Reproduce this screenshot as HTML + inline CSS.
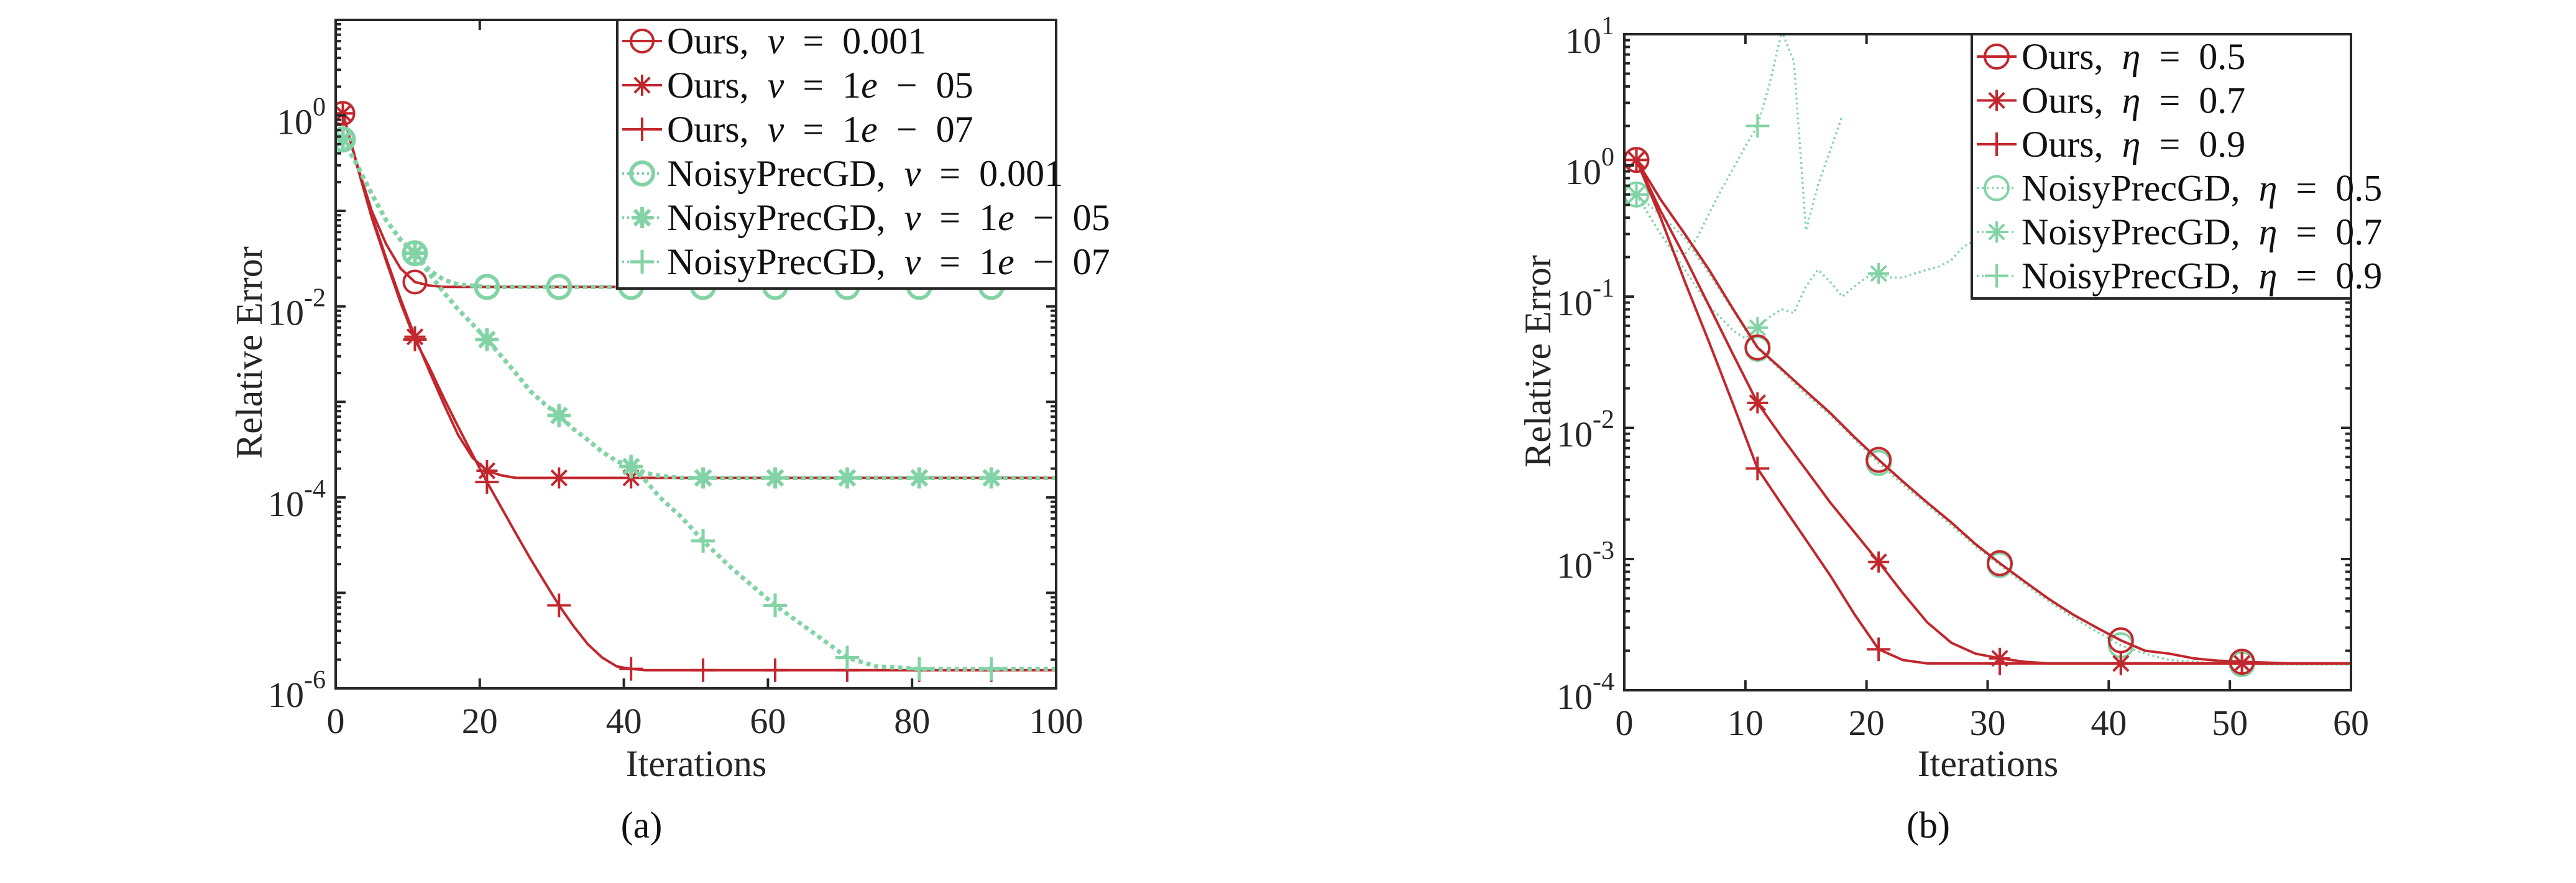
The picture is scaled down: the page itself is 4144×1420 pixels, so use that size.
<!DOCTYPE html>
<html><head><meta charset="utf-8"><style>
html,body{margin:0;padding:0;background:#fff;}
svg{display:block;font-family:"Liberation Serif",serif;}
</style></head><body>
<svg id="chart" xmlns="http://www.w3.org/2000/svg" width="4144" height="1420" viewBox="0 0 4144 1420">
<defs>
<clipPath id="clipA"><rect x="540" y="32" width="1159" height="1075"/></clipPath>
<clipPath id="clipB"><rect x="2613" y="55" width="1169" height="1055"/></clipPath>
</defs>
<rect x="0" y="0" width="4144" height="1420" fill="#fff"/>
</svg>
<script>
// ---------- Panel (a) data ----------
const itsA = [1,3,5,7,9,11,13,15,17,19,21,23,25,27,29,31,33,35,37,39,41,43,45,48,51,55,61,65,71,75,81,91,100];
const aOurs1e3 = [1.05,0.3,0.1,0.045,0.025,0.018,0.0165,0.016,0.016,0.016,0.016,0.016,0.016,0.016,0.016,0.016,0.016,0.016,0.016,0.016,0.016,0.016,0.016,0.016,0.016,0.016,0.016,0.016,0.016,0.016,0.016,0.016,0.016];
const aOurs1e5 = [1.05,0.3,0.09,0.032,0.012,0.0048,0.0021,0.00095,0.00045,0.00026,0.00019,0.00017,0.00016,0.00016,0.00016,0.00016,0.00016,0.00016,0.00016,0.00016,0.00016,0.00016,0.00016,0.00016,0.00016,0.00016,0.00016,0.00016,0.00016,0.00016,0.00016,0.00016,0.00016];
const aOurs1e7 = [1.05,0.29,0.085,0.03,0.011,0.0045,0.0023,0.0011,0.00055,0.00028,0.000145,0.000078,0.000042,0.000023,0.000013,0.0000074,0.0000045,0.0000029,0.0000021,0.0000017,0.0000016,0.00000155,0.00000155,0.00000155,0.00000155,0.00000155,0.00000155,0.00000155,0.00000155,0.00000155,0.00000155,0.00000155,0.00000155];
const aNoisy1e3 = [0.56,0.3,0.15,0.08,0.05,0.036,0.024,0.019,0.017,0.0165,0.016,0.016,0.016,0.016,0.016,0.016,0.016,0.016,0.016,0.016,0.016,0.016,0.016,0.016,0.016,0.016,0.016,0.016,0.016,0.016,0.016,0.016,0.016];
const aNoisy1e5 = [0.56,0.3,0.15,0.08,0.05,0.036,0.022,0.014,0.0093,0.0065,0.0045,0.003,0.002,0.0013,0.00095,0.00072,0.00052,0.0004,0.0003,0.00024,0.00021,0.00018,0.000168,0.00016,0.00016,0.00016,0.00016,0.00016,0.00016,0.00016,0.00016,0.00016,0.00016];
const aNoisy1e7 = [0.56,0.3,0.15,0.08,0.05,0.036,0.022,0.014,0.0093,0.0065,0.0045,0.003,0.002,0.0013,0.00095,0.00072,0.00052,0.0004,0.0003,0.00024,0.00021,0.00015,0.0001,0.000062,0.000035,0.000018,0.0000074,0.0000045,0.0000021,0.0000017,0.0000016,0.0000016,0.0000016];
const aXTicks = [0,20,40,60,80,100];
const aYExp = ["-6","-4","-2","0"];
const aYExpVals = [-6,-4,-2,0];

// ---------- Panel (b) data ----------
const itsB = [1,3,5,7,9,11,13,15,17,19,21,23,25,27,29,31,33,35,37,39,41,43,45,47,49,51,55,60];
const bOurs05 = [1.1,0.55,0.3,0.16,0.08,0.041,0.028,0.019,0.013,0.0085,0.0057,0.0039,0.0027,0.0019,0.0013,0.00093,0.00068,0.0005,0.00038,0.0003,0.00024,0.0002,0.00019,0.000175,0.000168,0.000165,0.00016,0.00016];
const bNoisy05 = [0.6,0.42,0.28,0.15,0.078,0.04,0.027,0.018,0.0125,0.0082,0.0054,0.0037,0.0026,0.0018,0.00125,0.0009,0.00065,0.00048,0.00036,0.00028,0.00022,0.00019,0.00017,0.000165,0.00016,0.000158,0.000157,0.000157];
const bOurs07 = [1.1,0.45,0.2,0.085,0.036,0.0155,0.0085,0.0048,0.0027,0.0016,0.00095,0.00055,0.00033,0.00023,0.00019,0.000175,0.000165,0.00016,0.00016,0.00016,0.00016,0.00016,0.00016,0.00016,0.00016,0.00016,0.00016,0.00016];
const bOurs09 = [1.1,0.4,0.13,0.045,0.015,0.0049,0.0026,0.0014,0.00075,0.00038,0.000205,0.00017,0.00016,0.00016,0.00016,0.00016,0.00016,0.00016,0.00016,0.00016,0.00016,0.00016,0.00016,0.00016,0.00016,0.00016,0.00016,0.00016];
const itsBNoisy07 = [1,3,5,7,9,10,11,12,13,14,15,16,17,18,19,20,21,22,23,24,25,26,27,28,29,30];
const bNoisy07 = [0.6,0.3,0.16,0.085,0.055,0.048,0.058,0.07,0.08,0.075,0.12,0.16,0.13,0.1,0.12,0.14,0.15,0.14,0.14,0.15,0.16,0.17,0.19,0.24,0.27,0.3];
const itsBNoisy09 = [1,2,3,4,5,6,7,8,9,10,11,12,13,14,15,16,17,18];
const bNoisy09 = [0.6,0.42,0.3,0.23,0.21,0.28,0.43,0.65,0.95,1.4,2.0,4.2,10.5,6.2,0.32,0.71,1.3,2.4];
const bXTicks = [0,10,20,30,40,50,60];
const bYExp = ["-4","-3","-2","-1","0","1"];
const bYExpVals = [-4,-3,-2,-1,0,1];

const markerIters = [1,11,21,31,41,51,61,71,81,91];
const RED = "#c1272d", GREEN = "#82d3a5", AX = "#262626";
const NS = "http://www.w3.org/2000/svg";
const svg = document.getElementById('chart');

function mk(tag, attrs, parent){
  const e = document.createElementNS(NS, tag);
  for (const k in attrs) e.setAttribute(k, attrs[k]);
  parent.appendChild(e);
  return e;
}

function marker(parent, type, cx, cy, color, sw, r){
  const g = mk('g', {stroke: color, 'stroke-width': sw, fill: 'none'}, parent);
  
  
  if (type === 'circle') {
    mk('circle', {cx: cx, cy: cy, r: r}, g);
  } else if (type === 'star') {
    mk('path', {d: `M${cx-r},${cy}H${cx+r}M${cx},${cy-r}V${cy+r}M${cx-r*0.72},${cy-r*0.72}L${cx+r*0.72},${cy+r*0.72}M${cx-r*0.72},${cy+r*0.72}L${cx+r*0.72},${cy-r*0.72}`}, g);
  } else {
    mk('path', {d: `M${cx-r},${cy}H${cx+r}M${cx},${cy-r}V${cy+r}`}, g);
  }
  return g;
}

function panel(cfg){
  const P = mk('g', {}, svg);
  
  
  const sx = v => cfg.x0 + (v - cfg.xmin) / (cfg.xmax - cfg.xmin) * (cfg.x1 - cfg.x0);
  const sy = v => cfg.yBot - (Math.log10(v) - cfg.lmin) / (cfg.lmax - cfg.lmin) * (cfg.yBot - cfg.yTop);

  const plot = mk('g', {'clip-path': `url(#${cfg.clip})`}, P);
  
  
  cfg.series.forEach(s => {
    const g = mk('g', {}, plot);
    
    
    const pts = s.x.map((x, i) => `${sx(x).toFixed(1)},${sy(s.y[i]).toFixed(1)}`).join(' ');
    const line = mk('polyline', {points: pts, fill: 'none', stroke: s.color, 'stroke-width': s.sw, 'stroke-dasharray': s.dash || 'none', 'stroke-linejoin': 'round'}, g);
    
    
    s.x.forEach((x, i) => {
      if (markerIters.indexOf(x) >= 0) marker(g, s.marker, sx(x), sy(s.y[i]), s.color, s.msw, s.mr);
    });
  });

  const axes = mk('g', {stroke: AX, 'stroke-width': 4, fill: 'none'}, P);
  
  
  mk('rect', {x: cfg.x0, y: cfg.yTop, width: cfg.x1 - cfg.x0, height: cfg.yBot - cfg.yTop}, axes);
  let d = '';
  for (let e = cfg.lmin; e <= cfg.lmax; e++) {
    const y = sy(Math.pow(10, e));
    d += `M${cfg.x0},${y}h16M${cfg.x1},${y}h-16`;
    if (e < cfg.lmax) for (let k = 2; k <= 9; k++) {
      const yy = sy(k * Math.pow(10, e));
      d += `M${cfg.x0},${yy}h9M${cfg.x1},${yy}h-9`;
    }
  }
  cfg.xticks.forEach(t => { const x = sx(t); d += `M${x},${cfg.yBot}v-16M${x},${cfg.yTop}v16`; });
  const tk = mk('path', {d: d}, axes);
  
  

  cfg.xticks.forEach(t => {
    const tx = mk('text', {x: sx(t), y: cfg.yBot + 72, 'text-anchor': 'middle', 'font-size': 58, fill: AX}, P);
    
    
    tx.textContent = String(t);
  });
  cfg.yexpVals.forEach((e, i) => {
    const y = sy(Math.pow(10, e));
    const tx = mk('text', {x: cfg.x0 - 16, y: y + 30, 'text-anchor': 'end', 'font-size': 58, fill: AX}, P);
    
    
    tx.appendChild(document.createTextNode('10'));
    const sup = mk('tspan', {dy: -30, 'font-size': 42}, tx);
    sup.textContent = cfg.yexp[i];
  });

  const xt = mk('text', {x: cfg.xtX, y: 1248, 'text-anchor': 'middle', 'font-size': 60, fill: AX}, P);
  
  
  xt.textContent = 'Iterations';
  const yt = mk('text', {x: 0, y: 0, 'text-anchor': 'middle', 'font-size': 60, fill: AX, transform: `translate(${cfg.ytX},${cfg.ytY}) rotate(-90)`}, P);
  
  
  yt.textContent = 'Relative Error';
  const cap = mk('text', {x: cfg.capX, y: 1347, 'text-anchor': 'middle', 'font-size': 60, fill: '#111'}, P);
  
  
  cap.textContent = cfg.caption;

  const L = cfg.legend;
  const lg = mk('g', {}, P);
  
  
  mk('rect', {x: L.x, y: L.y, width: L.w, height: L.h, fill: '#fff', stroke: AX, 'stroke-width': 4}, lg);
  cfg.series.forEach((s, i) => {
    const cy = L.row0 + (s.order !== undefined ? s.order : i) * L.dy;
    const eg = mk('g', {}, lg);
    
    
    mk('line', {x1: L.x + 8, x2: L.x + 72, y1: cy, y2: cy, stroke: s.color, 'stroke-width': s.sw < 4 ? 3.5 : 4, 'stroke-dasharray': s.dash ? '3 5' : 'none'}, eg);
    marker(eg, s.marker, L.x + 40, cy, s.color, s.msw, s.mr);
    const tx = mk('text', {x: L.x + 80, y: cy + 20, 'font-size': 60, fill: '#111'}, eg);
    tx.setAttribute('xml:space', 'preserve');
    tx.appendChild(document.createTextNode(s.label + ',\u2002'));
    const gr = mk('tspan', {'font-style': 'italic'}, tx);
    gr.textContent = s.sym;
    tx.appendChild(document.createTextNode('\u2002=\u2002'));
    if (s.val.indexOf('e') > 0) {
      const parts = s.val.split('e');
      tx.appendChild(document.createTextNode(parts[0]));
      const it = mk('tspan', {'font-style': 'italic'}, tx);
      it.textContent = 'e';
      tx.appendChild(document.createTextNode('\u2002\u2212\u2002' + parts[1]));
    } else {
      tx.appendChild(document.createTextNode(s.val));
    }
  });
}

const gDashA = '7 6', gDashB = '3 5';
panel({
  name: 'panel-a', clip: 'clipA', x0: 540, x1: 1699, xmin: 0, xmax: 100, yTop: 32, yBot: 1107, lmin: -6, lmax: 1,
  xticks: aXTicks, yexp: aYExp, yexpVals: aYExpVals, xtX: 1120, ytX: 421, ytY: 567, capX: 1032, caption: '(a)',
  legend: {x: 993, y: 32, w: 706, h: 432, row0: 66, dy: 71},
  series: [
    {id: 'ours-nu-0.001', x: itsA, y: aOurs1e3, color: RED, sw: 4, marker: 'circle', msw: 4, mr: 18, label: 'Ours', sym: 'ν', val: '0.001'},
    {id: 'ours-nu-1e-05', x: itsA, y: aOurs1e5, color: RED, sw: 4, marker: 'star', msw: 4, mr: 17, label: 'Ours', sym: 'ν', val: '1e05'},
    {id: 'ours-nu-1e-07', x: itsA, y: aOurs1e7, color: RED, sw: 4, marker: 'plus', msw: 4, mr: 19, label: 'Ours', sym: 'ν', val: '1e07'},
    {id: 'noisyprecgd-nu-0.001', x: itsA, y: aNoisy1e3, color: GREEN, sw: 7, dash: gDashA, marker: 'circle', msw: 6, mr: 18, label: 'NoisyPrecGD', sym: 'ν', val: '0.001'},
    {id: 'noisyprecgd-nu-1e-05', x: itsA, y: aNoisy1e5, color: GREEN, sw: 7, dash: gDashA, marker: 'star', msw: 6, mr: 17, label: 'NoisyPrecGD', sym: 'ν', val: '1e05'},
    {id: 'noisyprecgd-nu-1e-07', x: itsA, y: aNoisy1e7, color: GREEN, sw: 7, dash: gDashA, marker: 'plus', msw: 5, mr: 19, label: 'NoisyPrecGD', sym: 'ν', val: '1e07'}
  ]
});
panel({
  name: 'panel-b', clip: 'clipB', x0: 2613, x1: 3782, xmin: 0, xmax: 60, yTop: 55, yBot: 1110, lmin: -4, lmax: 1,
  xticks: bXTicks, yexp: bYExp, yexpVals: bYExpVals, xtX: 3198, ytX: 2494, ytY: 581, capX: 3102, caption: '(b)',
  legend: {x: 3172, y: 55, w: 610, h: 425, row0: 91, dy: 70.5},
  series: [
    {id: 'noisyprecgd-eta-0.5', x: itsB, y: bNoisy05, color: GREEN, sw: 3.5, dash: gDashB, marker: 'circle', msw: 4, mr: 19, label: 'NoisyPrecGD', sym: 'η', val: '0.5', order: 3},
    {id: 'noisyprecgd-eta-0.7', x: itsBNoisy07, y: bNoisy07, color: GREEN, sw: 3.5, dash: gDashB, marker: 'star', msw: 4, mr: 17, label: 'NoisyPrecGD', sym: 'η', val: '0.7', order: 4},
    {id: 'noisyprecgd-eta-0.9', x: itsBNoisy09, y: bNoisy09, color: GREEN, sw: 3.5, dash: gDashB, marker: 'plus', msw: 4, mr: 19, label: 'NoisyPrecGD', sym: 'η', val: '0.9', order: 5},
    {id: 'ours-eta-0.5', x: itsB, y: bOurs05, color: RED, sw: 4, marker: 'circle', msw: 4, mr: 19, label: 'Ours', sym: 'η', val: '0.5', order: 0},
    {id: 'ours-eta-0.7', x: itsB, y: bOurs07, color: RED, sw: 4, marker: 'star', msw: 4, mr: 17, label: 'Ours', sym: 'η', val: '0.7', order: 1},
    {id: 'ours-eta-0.9', x: itsB, y: bOurs09, color: RED, sw: 4, marker: 'plus', msw: 4, mr: 19, label: 'Ours', sym: 'η', val: '0.9', order: 2}
  ]
});
</script>
</body></html>
